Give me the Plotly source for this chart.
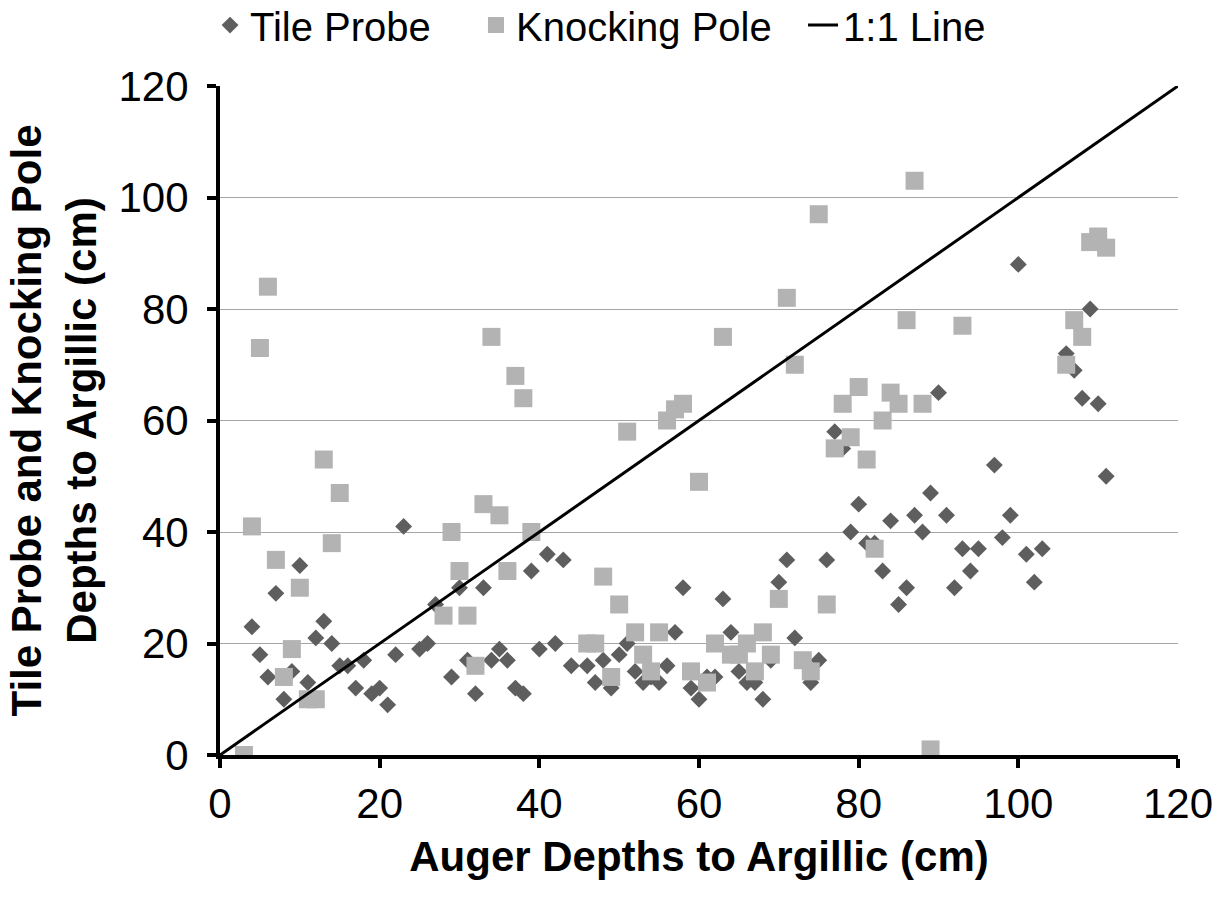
import plotly.graph_objects as go

tile_x = [4, 5, 6, 7, 8, 9, 10, 11, 12, 13, 14, 15, 16, 17, 18, 19, 20, 21, 22, 23,
          25, 26, 27, 29, 30, 31, 32, 33, 34, 35, 36, 37, 38, 39, 40, 41, 42, 43, 44,
          46, 47, 48, 49, 50, 51, 52, 53, 54, 55, 56, 57, 58, 59, 60, 61, 62, 63, 64,
          65, 66, 67, 68, 69, 70, 71, 72, 73, 74, 75, 76, 77, 78, 79, 80, 81, 82, 83,
          84, 85, 86, 87, 88, 89, 90, 91, 92, 93, 94, 95, 97, 98, 99, 100, 101, 102,
          103, 106, 107, 108, 109, 110, 111]
tile_y = [23, 18, 14, 29, 10, 15, 34, 13, 21, 24, 20, 16, 16, 12, 17, 11, 12, 9, 18, 41,
          19, 20, 27, 14, 30, 17, 11, 30, 17, 19, 17, 12, 11, 33, 19, 36, 20, 35, 16,
          16, 13, 17, 12, 18, 20, 15, 13, 14, 13, 16, 22, 30, 12, 10, 14, 14, 28, 22,
          15, 13, 13, 10, 17, 31, 35, 21, 17, 13, 17, 35, 58, 55, 40, 45, 38, 38, 33,
          42, 27, 30, 43, 40, 47, 65, 43, 30, 37, 33, 37, 52, 39, 43, 88, 36, 31,
          37, 72, 69, 64, 80, 63, 50]

pole_x = [3, 4, 5, 6, 7, 8, 9, 10, 11, 12, 13, 14, 15, 28, 29, 30, 31, 32, 33, 34, 35,
          36, 37, 38, 39, 46, 47, 48, 49, 50, 51, 52, 53, 54, 55, 56, 57, 58, 59, 60,
          61, 62, 63, 64, 65, 66, 67, 68, 69, 70, 71, 72, 73, 74, 75, 76, 77, 78, 79,
          80, 81, 82, 83, 84, 85, 86, 87, 88, 89, 93, 106, 107, 108, 109, 110, 111]
pole_y = [0, 41, 73, 84, 35, 14, 19, 30, 10, 10, 53, 38, 47, 25, 40, 33, 25, 16, 45, 75, 43,
          33, 68, 64, 40, 20, 20, 32, 14, 27, 58, 22, 18, 15, 22, 60, 62, 63, 15, 49,
          13, 20, 75, 18, 18, 20, 15, 22, 18, 28, 82, 70, 17, 15, 97, 27, 55, 63, 57,
          66, 53, 37, 60, 65, 63, 78, 103, 63, 1, 77, 70, 78, 75, 92, 93, 91]

line_x = [0, 120]
line_y = [0, 120]

x_ticks = [0, 20, 40, 60, 80, 100, 120]
y_ticks = [0, 20, 40, 60, 80, 100, 120]

FONT = "Liberation Sans, Arial, sans-serif"
FS = 42
LFS = 40

fig = go.Figure()
fig.add_trace(go.Scatter(x=tile_x, y=tile_y, mode="markers", name="Tile Probe", legend="legend",
                         marker=dict(symbol="diamond", size=13, color="#5e5e5e")))
fig.add_trace(go.Scatter(x=pole_x, y=pole_y, mode="markers", name="Knocking Pole", legend="legend2",
                         marker=dict(symbol="square", size=18, color="#b3b3b3")))
fig.add_trace(go.Scatter(x=line_x, y=line_y, mode="lines", name="1:1 Line", legend="legend3",
                         line=dict(color="black", width=3)))

leg_common = dict(orientation="h", xanchor="left", y=1.091, yanchor="middle",
                  font=dict(size=LFS), bgcolor="rgba(0,0,0,0)", itemsizing="trace")

fig.update_layout(
    width=1222, height=901,
    margin=dict(l=220, r=44, t=86, b=146, autoexpand=False),
    paper_bgcolor="white", plot_bgcolor="white",
    font=dict(family=FONT, size=FS, color="black"),
    showlegend=True,
    legend=dict(x=-0.0104, **leg_common),
    legend2=dict(x=0.2672, **leg_common),
    legend3=dict(x=0.6086, **leg_common),
    xaxis=dict(range=[0, 120], tickvals=x_ticks, showgrid=False, zeroline=False,
               showline=True, linecolor="black", linewidth=4,
               ticks="outside", ticklen=9, tickwidth=4, tickcolor="black",
               tickfont=dict(size=FS),
               title=dict(text="<b>Auger Depths to Argillic (cm)</b>", font=dict(size=FS), standoff=16)),
    yaxis=dict(range=[0, 120], tickvals=y_ticks, showgrid=True, gridcolor="#a6a6a6", gridwidth=1,
               zeroline=False, showline=True, linecolor="black", linewidth=4,
               ticks="outside", ticklen=9, tickwidth=4, tickcolor="black",
               tickfont=dict(size=FS), ticklabelstandoff=10,
               title=dict(text="<b>Tile Probe and Knocking Pole<br>Depths to Argillic (cm)</b>",
                          font=dict(size=FS), standoff=10)),
)

fig.write_html("out.html")
